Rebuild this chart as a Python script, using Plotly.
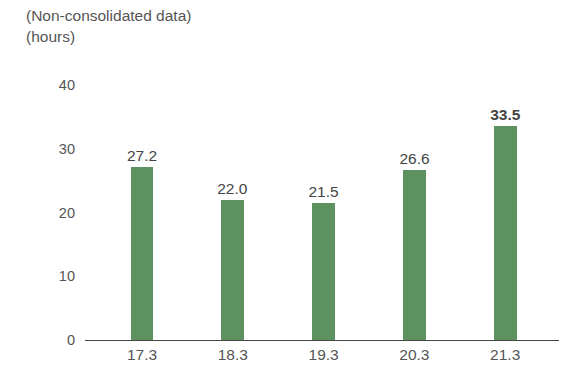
import plotly.graph_objects as go

categories = ["17.3", "18.3", "19.3", "20.3", "21.3"]
values = [27.2, 22.0, 21.5, 26.6, 33.5]
value_labels = ["27.2", "22.0", "21.5", "26.6", "<b>33.5</b>"]
y_ticks = [0, 10, 20, 30, 40]

# the page body adds an 8px offset; compensate
OFF = 8
W, H = 567 - OFF, 366 - OFF

fig = go.Figure()
fig.add_trace(go.Bar(
    x=list(range(len(categories))),
    y=values,
    width=0.25,
    marker=dict(color="#5e9160", line=dict(width=0)),
    text=value_labels,
    textposition="outside",
    constraintext="none",
    textfont=dict(size=15.5, color="#444444"),
    cliponaxis=False,
    hoverinfo="skip",
))

fig.update_layout(
    width=W, height=H,
    margin=dict(l=85 - OFF, r=1, t=84.5 - OFF, b=366 - 340.5, autoexpand=False),
    paper_bgcolor="white", plot_bgcolor="white",
    font=dict(family="Liberation Sans, Arial, sans-serif", color="#555555", size=15),
    showlegend=False,
    bargap=0,
)
fig.add_annotation(text="(Non-consolidated data)", xref="paper", yref="paper",
                   x=-(85 - 24) / (W - 77 - 1), y=1 + (76.5 - 7) / (332.5 - 76.5),
                   xanchor="left", yanchor="middle",
                   showarrow=False, font=dict(size=15.5, color="#555555"))
fig.add_annotation(text="(hours)", xref="paper", yref="paper",
                   x=-(85 - 24) / (W - 77 - 1), y=1 + (76.5 - 28) / (332.5 - 76.5),
                   xanchor="left", yanchor="middle",
                   showarrow=False, font=dict(size=15.5, color="#555555"))

fig.update_xaxes(
    range=[-0.628, 4.67],
    tickvals=list(range(len(categories))),
    ticktext=categories,
    showline=True, linecolor="#444444", linewidth=1,
    showgrid=False, zeroline=False, ticks="",
    tickfont=dict(size=15.5, color="#555555"),
)
fig.update_yaxes(
    range=[0, 40],
    tickvals=y_ticks,
    showline=False, showgrid=False, zeroline=False, ticks="",
    ticklabelstandoff=9,
    tickfont=dict(size=14.5, color="#555555"),
)

fig.write_html("out.html")
